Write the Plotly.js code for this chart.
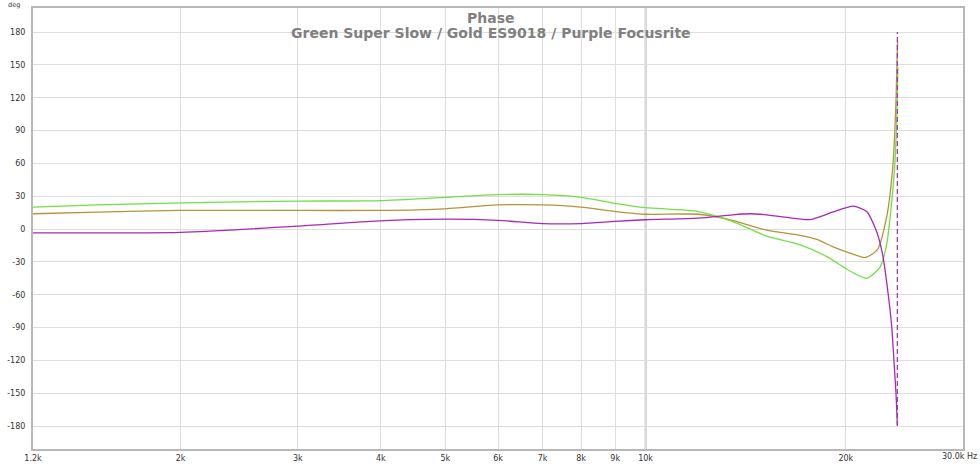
<!DOCTYPE html>
<html>
<head>
<meta charset="utf-8">
<script src="https://cdn.plot.ly/plotly-3.0.1.min.js"></script>
<style>html,body{margin:0;padding:0;background:#fff;}#chart{width:980px;height:464px;}</style>
</head>
<body>
<div id="chart"></div>
<script>
// ---- data ----
const greenFreq = [1200,1500,2000,3000,4000,5000,6000,7000,8000,9000,10000,12000,13500,15200,17000,18700,20100,21500,22500,23050,23450,23700,23850,23950];
const greenPhase = [20,22,24,25.5,26,29,31.5,31.5,29,23.5,19.5,16,7,-6.5,-14,-25,-37,-45,-35,-13,26,60,100,148];

const goldFreq = [1200,1500,2000,3000,4000,5000,6000,7000,8000,9000,10000,12000,13500,15200,17000,18100,19100,20300,21400,22300,23050,23550,23800,23920];
const goldPhase = [14,15.5,17,17,17,18.5,22,22,20,16,13.5,13.5,8,-1,-5.5,-9.5,-16,-22,-26,-19,12,60,120,172];

const purpleFreq = [1200,2000,3000,3850,5000,6000,7000,8000,9000,10000,12000,13500,14350,15200,17000,17700,19100,20500,21500,22300,22740,23140,23440,23620,23790,23900];
const purplePhase = [-3.5,-3,2.6,7,9,8,5,5,7,8.5,10,13,14,13,9.3,8.7,15.4,21,16,-4,-25,-58,-89,-120,-150,-179];

// phase wrap of the purple trace (from -180 back to +180)
const purpleWrapFreq = [23900, 23900];
const purpleWrapPhase = [-180, 180];

const xTickVals = [1200,2000,3000,4000,5000,6000,7000,8000,9000,10000,20000,30000];
const xTickText = ['1.2k','2k','3k','4k','5k','6k','7k','8k','9k','10k','20k',''];
const xEndLabel = '30.0k Hz';
const yTickVals = [180,150,120,90,60,30,0,-30,-60,-90,-120,-150,-180];
const yTickText = ['180','150','120','90','60','30','0','-30','-60','-90','-120','-150','-180'];
const yUnit = 'deg';

const titleLine1 = 'Phase';
const titleLine2 = 'Green Super Slow / Gold ES9018 / Purple Focusrite';

// ---- styles ----
const cGreen = '#72e044';
const cGold = '#b8923a';
const cPurple = '#a62ab6';

const traces = [
  {x: goldFreq, y: goldPhase, mode: 'lines', line: {color: cGold, width: 1.3, shape: 'spline', smoothing: 0.6}, hoverinfo: 'skip'},
  {x: greenFreq, y: greenPhase, mode: 'lines', line: {color: cGreen, width: 1.3, shape: 'spline', smoothing: 0.6}, hoverinfo: 'skip'},
  {x: purpleFreq, y: purplePhase, mode: 'lines', line: {color: cPurple, width: 1.3, shape: 'spline', smoothing: 0.6}, hoverinfo: 'skip'},
  {x: purpleWrapFreq, y: purpleWrapPhase, mode: 'lines', line: {color: cPurple, width: 1.2, dash: '5px,3px'}, hoverinfo: 'skip'}
];

const layout = {
  width: 980, height: 464,
  margin: {l: 33, r: 17, t: 8, b: 15},
  paper_bgcolor: '#ffffff', plot_bgcolor: '#ffffff',
  showlegend: false,
  font: {family: 'DejaVu Sans, sans-serif', size: 8, color: '#333'},
  xaxis: {
    type: 'log',
    range: [Math.log10(1200), Math.log10(30000)],
    tickmode: 'array', tickvals: xTickVals, ticktext: xTickText,
    showgrid: true, gridcolor: '#dedede', gridwidth: 1,
    zeroline: false, ticks: '',
    showline: true, mirror: true, linecolor: '#b8b8b8', linewidth: 2,
    tickfont: {size: 8, color: '#333'}, ticklabelstandoff: 0
  },
  yaxis: {
    range: [-201, 202],
    tickmode: 'array', tickvals: yTickVals, ticktext: yTickText,
    showgrid: true, gridcolor: '#dedede', gridwidth: 1,
    zeroline: false, ticks: '',
    showline: true, mirror: true, linecolor: '#b8b8b8', linewidth: 2,
    tickfont: {size: 8, color: '#333'}, ticklabelstandoff: 4
  },
  shapes: [
    {type: 'line', xref: 'x', yref: 'paper', x0: 10000, x1: 10000, y0: 0, y1: 1, line: {color: '#bdbdbd', width: 2}, layer: 'below'}
  ],
  annotations: [
    {text: titleLine1, xref: 'paper', yref: 'paper', x: 0.493, y: 0.98, xanchor: 'center', yanchor: 'middle', yshift: -1, showarrow: false, font: {family: 'DejaVu Sans, sans-serif', size: 14, color: '#808080', weight: 'bold'}},
    {text: titleLine2, xref: 'paper', yref: 'paper', x: 0.493, y: 0.944, xanchor: 'center', yanchor: 'middle', showarrow: false, font: {family: 'DejaVu Sans, sans-serif', size: 14, color: '#808080', weight: 'bold'}},
    {text: yUnit, xref: 'paper', yref: 'paper', x: -0.013, y: 1.019, xanchor: 'right', yanchor: 'top', showarrow: false, borderpad: 0, font: {size: 6.5, color: '#333'}},
    {text: xEndLabel, xref: 'paper', yref: 'paper', x: 1.016, y: -0.004, xanchor: 'right', yanchor: 'top', showarrow: false, borderpad: 0, font: {size: 8, color: '#333'}}
  ]
};

Plotly.newPlot('chart', traces, layout, {staticPlot: true, displayModeBar: false});
</script>
</body>
</html>
